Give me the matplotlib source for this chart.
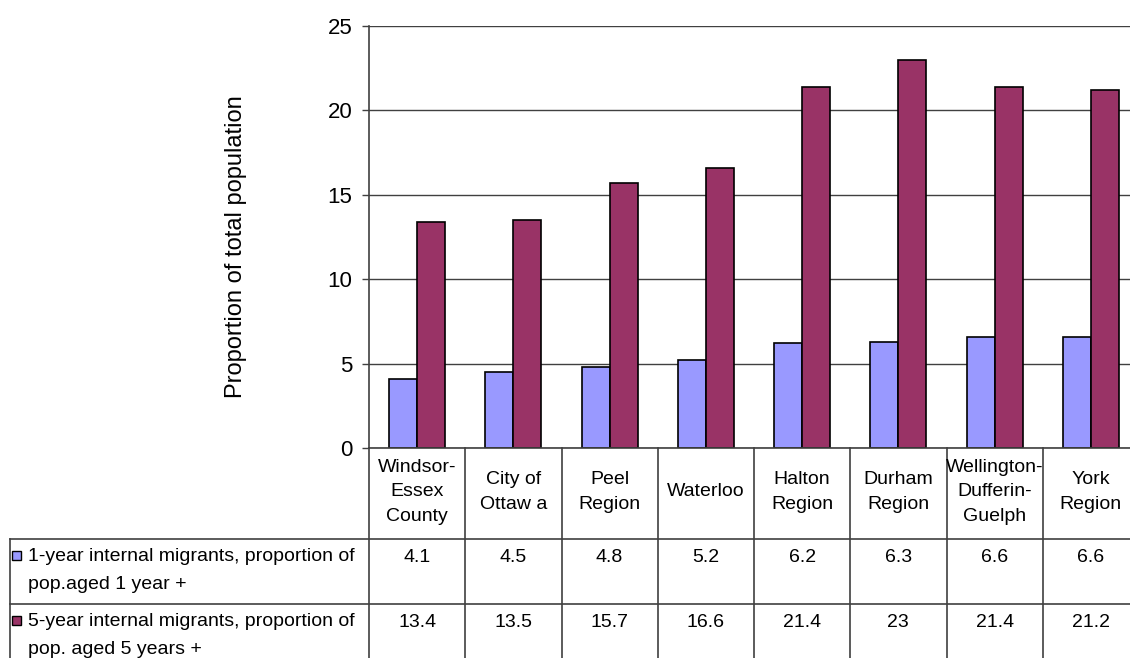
import matplotlib
matplotlib.use("Agg")
import matplotlib.pyplot as plt
from matplotlib.transforms import blended_transform_factory
from matplotlib.lines import Line2D
from matplotlib.patches import Rectangle

plt.rcParams['font.family'] = ['Liberation Sans', 'DejaVu Sans']

regions = ["Windsor-\nEssex\nCounty", "City of\nOttaw a", "Peel\nRegion", "Waterloo",
           "Halton\nRegion", "Durham\nRegion", "Wellington-\nDufferin-\nGuelph", "York\nRegion"]
one_year = [4.1, 4.5, 4.8, 5.2, 6.2, 6.3, 6.6, 6.6]
five_year = [13.4, 13.5, 15.7, 16.6, 21.4, 23, 21.4, 21.2]
one_year_labels = ["4.1", "4.5", "4.8", "5.2", "6.2", "6.3", "6.6", "6.6"]
five_year_labels = ["13.4", "13.5", "15.7", "16.6", "21.4", "23", "21.4", "21.2"]
series_names = ["1-year internal migrants, proportion of\npop.aged 1 year +",
                "5-year internal migrants, proportion of\npop. aged 5 years +"]
yticks = [0, 5, 10, 15, 20, 25]

blue = "#9999FF"
plum = "#993366"

W, H = 1130, 658
fig = plt.figure(figsize=(W / 100, H / 100), dpi=100)

def fx(px):
    return px / W

def fy(py):
    return 1 - py / H

left_px, right_px, top_px, bot_px = 369, 1139, 26, 448
ax = fig.add_axes([fx(left_px), fy(bot_px), fx(right_px) - fx(left_px), fy(top_px) - fy(bot_px)])

n = len(regions)
x = list(range(n))
bw = 0.29
ax.bar([i - bw / 2 for i in x], one_year, width=bw, color=blue, edgecolor="black", linewidth=1.2, zorder=3)
ax.bar([i + bw / 2 for i in x], five_year, width=bw, color=plum, edgecolor="black", linewidth=1.2, zorder=3)

ax.set_xlim(-0.5, n - 0.5)
ax.set_ylim(0, 25)
ax.set_yticks(yticks)
ax.set_yticklabels([str(t) for t in yticks], fontsize=16)
ax.tick_params(axis="y", direction="out", length=5, width=1, pad=7, color="#404040")
ax.set_xticks([])
ax.yaxis.grid(True, color="#404040", linewidth=1, zorder=0)
for s in ["top", "right", "bottom"]:
    ax.spines[s].set_visible(False)
ax.spines["left"].set_color("#404040")
ax.spines["left"].set_linewidth(1.2)

fig.text(fx(236), fy(247), "Proportion of total population", rotation=90,
         ha="center", va="center", fontsize=17)

# data table under the plot
tr = blended_transform_factory(ax.transData, fig.transFigure)
row_top = [bot_px, 539, 604]
row_bot = 670
line_kw = dict(color="#404040", linewidth=1.2, clip_on=False)

# horizontal lines
fig.add_artist(Line2D([fx(left_px), 1], [fy(bot_px)] * 2, transform=fig.transFigure, **line_kw))
for yp in row_top[1:]:
    fig.add_artist(Line2D([fx(10), 1], [fy(yp)] * 2, transform=fig.transFigure, **line_kw))
# vertical lines
fig.add_artist(Line2D([fx(10), fx(10)], [fy(539), fy(row_bot)], transform=fig.transFigure, **line_kw))
for b in range(n + 1):
    fig.add_artist(Line2D([b - 0.5, b - 0.5], [fy(bot_px), fy(row_bot)], transform=tr, **line_kw))

fs = 14
for i, name in enumerate(regions):
    fig.text(i, fy(492), name, transform=tr, ha="center", va="center",
             fontsize=fs, linespacing=1.6)
    fig.text(i, fy(549), one_year_labels[i], transform=tr, ha="center", va="top", fontsize=fs)
    fig.text(i, fy(614), five_year_labels[i], transform=tr, ha="center", va="top", fontsize=fs)

for k, (name, col) in enumerate(zip(series_names, [blue, plum])):
    ytop = row_top[k + 1]
    fig.add_artist(Rectangle((fx(12), fy(ytop + 21)), fx(9), fy(ytop + 12) - fy(ytop + 21),
                             transform=fig.transFigure, facecolor=col, edgecolor="black",
                             linewidth=1))
    fig.text(fx(28), fy(ytop + 9), name, ha="left", va="top", fontsize=fs, linespacing=1.85)

fig.savefig("out.png", dpi=100)
